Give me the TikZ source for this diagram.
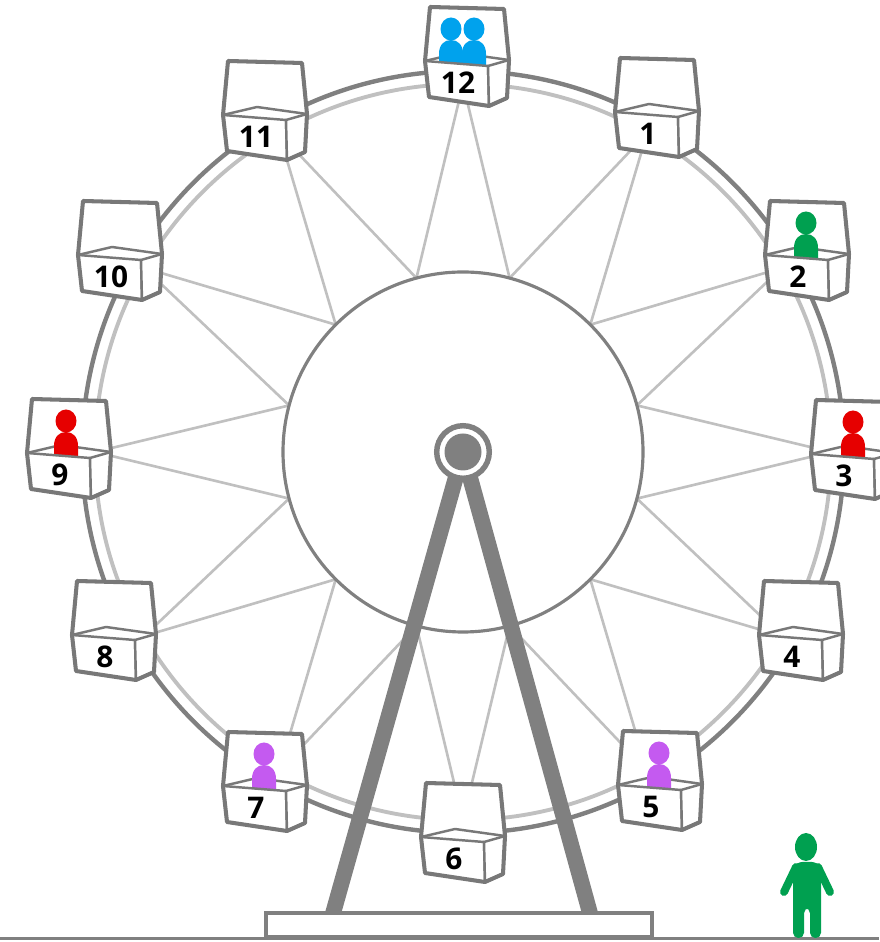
\documentclass[tikz,border=0pt]{standalone}
\usepackage{fontspec}
\setmainfont{Open Sans}
\usepackage{tikz}

\definecolor{wheelgray}{RGB}{128,128,128}
\definecolor{spokegray}{RGB}{192,192,192}
\definecolor{cabgray}{RGB}{120,120,120}
\definecolor{riderblue}{RGB}{0,162,237}
\definecolor{ridergreen}{RGB}{0,160,80}
\definecolor{riderred}{RGB}{230,0,0}
\definecolor{riderpurple}{RGB}{196,90,240}

\tikzset{
	spoke/.style={spokegray, line width=1.5pt},
	rim/.style={wheelgray, line width=2.5pt},
	cabline/.style={cabgray, line width=1.4pt, line join=round},
	caboutline/.style={cabgray, line width=2.3pt, line join=round},
	cabnum/.style={font=\fontsize{17}{20}\selectfont\bfseries},
}

% a seated figure, #1 colour, #2 shift sideways
\newcommand{\rider}[2]{
	\begin{scope}[shift={(#2,0)}]
		\fill[#1] (0,27) ellipse (10.5 and 11.5);
		\fill[#1] (-12,-14) -- (-12,2) .. controls (-12,11) and (-7,16) .. (0,16) .. controls (7,16) and (12,11) .. (12,2) -- (12,-14) -- cycle;
	\end{scope}
}

% gondola, #1 position, #2 number, #3 people inside
\newcommand{\cabin}[3]{
	\begin{scope}[shift={#1}]
		\fill[white] (-37,49) -- (37,47) -- (42,-4) -- (40,-42) -- (22,-50) -- (-38,-41) -- (-42,-5) -- cycle;
		\draw[cabline] (-42,-5) -- (-8,3) -- (42,-4);
		#3
		\filldraw[cabline, fill=white] (-42,-5) -- (21,-10) -- (22,-50) -- (-38,-41) -- cycle;
		\filldraw[cabline, fill=white] (21,-10) -- (42,-4) -- (40,-42) -- (22,-50) -- cycle;
		\draw[caboutline] (-37,49) -- (37,47) -- (42,-4) -- (40,-42) -- (22,-50) -- (-38,-41) -- (-42,-5) -- cycle;
		\node[cabnum] (cab#2) at (-9,-27) {#2};
	\end{scope}
}

\begin{document}
\begin{tikzpicture}[x=0.02cm, y=0.02cm]
	\useasboundingbox (0,0) rectangle (879,942);
	\coordinate (hub) at (463,490);
	\coordinate (leftfoot) at (330,18);
	\coordinate (rightfoot) at (593,18);

	% wheel
	\begin{scope}[shift={(hub)}]
		\foreach \a in {0,30,...,330}
			\draw[spoke] (\a:368) -- (\a+15:180) (\a:368) -- (\a-15:180);
		\draw[wheelgray, line width=1.8pt] (0,0) circle (180);
		\draw[spokegray, line width=2.2pt] (0,0) circle (368);
		\draw[rim] (0,0) circle (381);
	\end{scope}

	% gondolas
	\cabin{(467,886)}{12}{\rider{riderblue}{-16}\rider{riderblue}{7}}
	\cabin{(657,835)}{1}{}
	\cabin{(807,692)}{2}{\rider{ridergreen}{-1}}
	\cabin{(853,493)}{3}{\rider{riderred}{0}}
	\cabin{(801,312)}{4}{}
	\cabin{(660,162)}{5}{\rider{riderpurple}{-1}}
	\cabin{(463,110)}{6}{}
	\cabin{(265,161)}{7}{\rider{riderpurple}{-1}}
	\cabin{(114,312)}{8}{}
	\cabin{(69,494)}{9}{\rider{riderred}{-3}}
	\cabin{(120,692)}{10}{}
	\cabin{(265,832)}{11}{}

	% stand
	\draw[wheelgray, line width=9pt] (hub) -- (leftfoot);
	\draw[wheelgray, line width=9pt] (hub) -- (rightfoot);
	\draw[wheelgray, line width=3.1pt, fill=white] (hub) circle (26.3);
	\fill[wheelgray] (hub) circle (18.5);
	\draw[wheelgray, line width=2.8pt, fill=white] (266,5) rectangle (652,29);
	\draw[wheelgray, line width=1.7pt] (0,3.5) -- (879,3.5);

	% person on the ground
	\fill[ridergreen] (806,95) ellipse (11 and 14);
	\fill[ridergreen, rounded corners=3] (793,4) -- (793,74) -- (797,80) -- (817,80) -- (821,74) -- (821,4) -- (810,4) -- (810,34) -- (804,34) -- (804,4) -- cycle;
	\draw[ridergreen, line width=4.5pt, line cap=round] (796,75) -- (784,50);
	\draw[ridergreen, line width=4.5pt, line cap=round] (818,75) -- (830,50);
\end{tikzpicture}
\end{document}
